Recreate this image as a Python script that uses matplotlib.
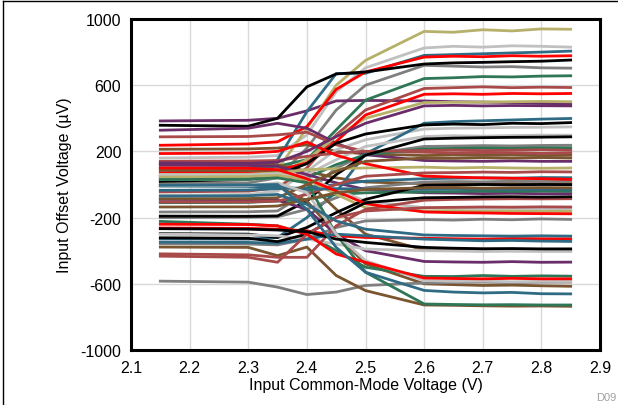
import matplotlib
matplotlib.use("Agg")
import matplotlib.pyplot as plt
from matplotlib.lines import Line2D

plt.rcParams['font.family'] = ['Liberation Sans', 'DejaVu Sans']
plt.rcParams['axes.unicode_minus'] = False

# Input common-mode voltage (V)
vcm = [2.15, 2.3, 2.35, 2.4, 2.45, 2.5, 2.6, 2.65, 2.7, 2.75, 2.8, 2.85]

# Offset voltage (uV) per unit, grouped by line colour
khaki_units = [
    [25, 35, 90, 340, 600, 750, 925, 920, 935, 928, 940, 938],
    [40, 45, 60, 150, 290, 400, 495, 497, 498, 500, 502, 500],
    [60, 62, 70, 90, 95, 100, 105, 100, 103, 100, 98, 100],
    [45, 48, 55, 30, -60, -140, -160, -158, -162, -160, -163, -162],
]
lightgray_units = [
    [160, 165, 175, 300, 560, 705, 825, 835, 830, 838, 835, 830],
    [-66, -60, -40, 80, 210, 270, 335, 340, 342, 345, 346, 348],
    [30, 32, 40, 60, 150, 230, 290, 295, 292, 296, 298, 298],
    [60, 58, 65, 40, -30, -100, -140, -142, -145, -143, -146, -146],
    [-300, -305, -310, -330, -360, -390, -400, -402, -405, -403, -405, -405],
    [-10, -8, 10, -50, -300, -460, -580, -585, -583, -588, -585, -586],
]
teal_units = [
    [50, 55, 150, 440, 670, 672, 780, 785, 790, 795, 800, 806],
    [-328, -330, -320, -200, -45, 185, 370, 380, 385, 390, 395, 399],
    [-35, -33, -25, -20, 0, 20, 35, 38, 40, 38, 42, 41],
    [-10, -12, -15, -30, -25, -28, -30, -28, -27, -30, -28, -29],
    [-348, -350, -355, -330, -300, -310, -330, -335, -340, -338, -342, -344],
    [-70, -68, -60, -120, -220, -270, -305, -308, -310, -312, -310, -312],
    [-5, -3, 0, -150, -380, -530, -640, -650, -655, -652, -660, -661],
]
red_units = [
    [237, 245, 258, 350, 575, 680, 770, 775, 772, 778, 775, 778],
    [72, 75, 85, 130, 260, 420, 545, 548, 545, 550, 548, 550],
    [187, 190, 200, 257, 177, 126, 51, 45, 40, 38, 35, 31],
    [-263, -265, -270, -280, -310, -320, -325, -328, -330, -326, -328, -328],
    [100, 98, 90, 35, -40, -116, -166, -170, -172, -175, -176, -177],
    [-240, -242, -250, -300, -420, -470, -565, -568, -570, -567, -570, -570],
]
black_units = [
    [358, 352, 400, 590, 668, 680, 728, 735, 738, 742, 745, 752],
    [19, 30, 58, 126, 250, 305, 360, 365, 362, 370, 368, 374],
    [-191, -192, -190, -100, 60, 177, 275, 280, 283, 285, 286, 288],
    [-297, -300, -320, -260, -170, -90, -5, -3, 0, -2, 0, -1],
    [-322, -325, -345, -300, -200, -110, -80, -78, -75, -74, -76, -74],
    [-267, -270, -275, -285, -330, -350, -380, -385, -388, -387, -389, -389],
]
gray_units = [
    [5, 10, 40, 220, 450, 600, 720, 715, 710, 712, 705, 703],
    [-166, -165, -160, -50, 100, 180, 230, 232, 235, 233, 236, 237],
    [-200, -198, -195, -150, -80, -20, 15, 18, 16, 20, 18, 19],
    [-358, -360, -365, -330, -260, -220, -212, -215, -210, -213, -208, -211],
    [-584, -590, -620, -665, -650, -610, -595, -592, -590, -593, -590, -590],
]
green_units = [
    [96, 100, 110, 150, 330, 510, 640, 645, 652, 650, 655, 657],
    [50, 52, 60, 40, 120, 180, 215, 218, 220, 218, 222, 221],
    [-110, -108, -100, -90, -60, -50, -45, -43, -40, -42, -40, -41],
    [-223, -240, -250, -300, -400, -500, -555, -556, -550, -555, -552, -554],
    [30, 32, 40, 10, -300, -530, -722, -725, -727, -726, -728, -728],
]
indianred_units = [
    [-45, -40, -20, 100, 300, 450, 580, 585, 590, 585, 588, 586],
    [288, 290, 300, 316, 240, 200, 195, 190, 193, 191, 188, 191],
    [140, 142, 145, 170, 190, 200, 205, 208, 205, 207, 210, 207],
    [-106, -105, -100, -60, 0, 50, 70, 72, 75, 73, 77, 76],
    [-419, -425, -440, -440, -250, -150, -95, -90, -88, -86, -87, -86],
    [-433, -440, -470, -300, -200, -160, -140, -138, -136, -137, -135, -136],
]
brown_units = [
    [213, 215, 220, 240, 200, 185, 175, 178, 176, 179, 175, 177],
    [126, 125, 120, 80, 40, 15, 5, 8, 4, 6, 3, 5],
    [86, 84, 80, 20, -150, -300, -395, -398, -396, -400, -398, -399],
    [-5, -8, -10, -100, -300, -480, -600, -605, -610, -608, -612, -615],
    [-378, -380, -430, -378, -550, -641, -728, -730, -733, -735, -734, -736],
    [-86, -85, -80, 0, 80, 140, 160, 158, 162, 160, 163, 160],
    [-136, -135, -130, -90, -50, -30, -20, -18, -22, -20, -19, -20],
]
purple_units = [
    [384, 388, 400, 445, 505, 508, 505, 500, 498, 495, 490, 487],
    [328, 340, 370, 340, 250, 180, 145, 142, 140, 143, 140, 140],
    [116, 115, 110, 60, 10, -30, -50, -52, -55, -53, -56, -55],
    [-90, -92, -95, -150, -300, -400, -465, -468, -470, -466, -470, -469],
    [130, 128, 135, 200, 290, 370, 475, 478, 475, 477, 476, 475],
]

x_ticks = [2.1, 2.2, 2.3, 2.4, 2.5, 2.6, 2.7, 2.8, 2.9]
y_ticks = [-1000, -600, -200, 200, 600, 1000]

groups = [
    (gray_units, '#7F7F7F'),
    (brown_units, '#7A5530'),
    (lightgray_units, '#C0C0C0'),
    (purple_units, '#6A2D6A'),
    (indianred_units, '#A94A4A'),
    (green_units, '#2E7656'),
    (khaki_units, '#B7B06A'),
    (teal_units, '#2F6B85'),
    (red_units, '#FF0000'),
    (black_units, '#000000'),
]

fig = plt.figure(figsize=(6.18, 4.06), dpi=100)
ax = fig.add_axes([131 / 618, 1 - 351 / 406, 469 / 618, 331 / 406])

# interleave drawing order so colours are mixed
maxn = max(len(g[0]) for g in groups)
for i in range(maxn):
    for units, col in groups:
        if i < len(units):
            ax.plot(vcm, units[i], color=col, lw=2.0, solid_joinstyle='round')

ax.set_xlim(2.1, 2.9)
ax.set_ylim(-1000, 1000)
ax.set_xticks(x_ticks)
ax.set_xticklabels([f"{v:.1f}" for v in x_ticks])
ax.set_yticks(y_ticks)
ax.set_yticklabels([str(v) for v in y_ticks])
ax.grid(True, color='#D9D9D9', lw=1.0)
ax.set_axisbelow(True)
ax.tick_params(length=0, labelsize=11.5, pad=7, colors='black')
for s in ax.spines.values():
    s.set_linewidth(2.2)
    s.set_color('black')

ax.set_xlabel('Input Common-Mode Voltage (V)', fontsize=11.5, labelpad=2)
ax.set_ylabel('Input Offset Voltage (µV)', fontsize=11.5, labelpad=6)

fig.text(596 / 618, 1 - 398 / 406, 'D09', fontsize=8, color='#A0A0A0', va='center', ha='left')

fig.add_artist(Line2D([3 / 618, 1], [1 - 2 / 406, 1 - 2 / 406], color='black', lw=1.0))
fig.add_artist(Line2D([3 / 618, 3 / 618], [0, 1 - 2 / 406], color='black', lw=1.0))

fig.savefig('out.png', dpi=100)
